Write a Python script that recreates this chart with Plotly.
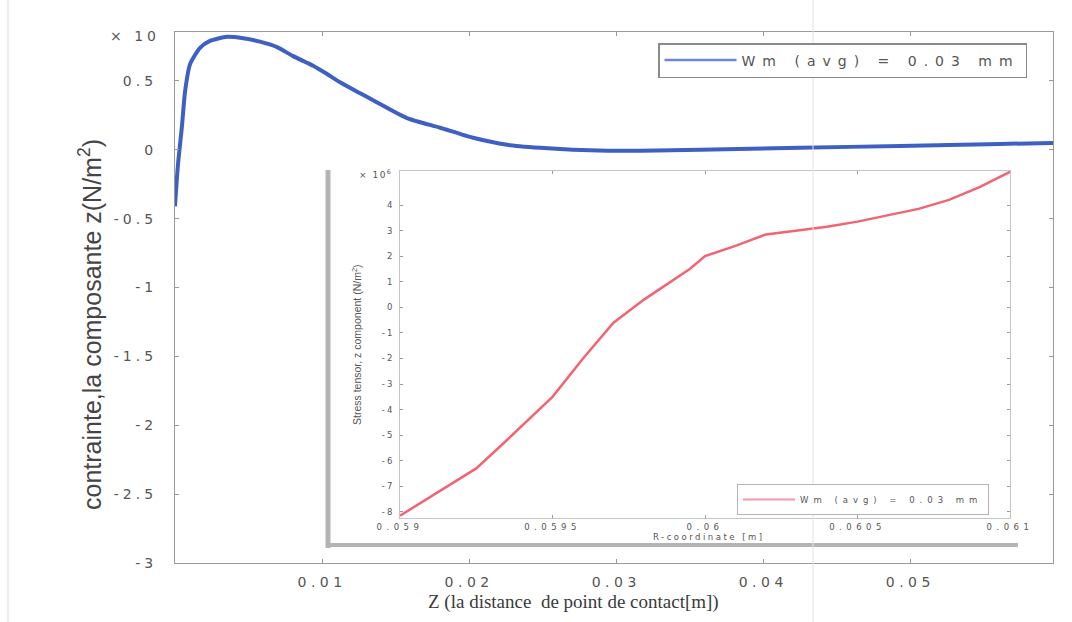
import plotly.graph_objects as go

# Main curve: z-component of stress along the distance from the contact point
z_dist = [0, 0.0002, 0.00048, 0.00068, 0.00102, 0.0017, 0.00238, 0.00354, 0.00463,
          0.00578, 0.00694, 0.00803, 0.00939, 0.01034, 0.01122, 0.01259, 0.01347,
          0.01578, 0.01803, 0.02027, 0.02259, 0.02483, 0.02707, 0.02939, 0.03163,
          0.0357, 0.0425, 0.0493, 0.0561, 0.0597]
stress_z = [-0.41, -0.11, 0.18, 0.42, 0.62, 0.74, 0.79, 0.82, 0.81, 0.785, 0.745,
            0.68, 0.61, 0.55, 0.49, 0.41, 0.36, 0.23, 0.16, 0.087, 0.036, 0.014,
            0.0, -0.007, -0.007, 0.0, 0.014, 0.028, 0.042, 0.05]

# Inset curve: stress tensor z component vs R-coordinate
r_coord = [0.05900, 0.05925, 0.05935, 0.05950, 0.05960, 0.05970, 0.05980, 0.05990,
           0.05995, 0.06000, 0.06010, 0.06020, 0.06030, 0.06040, 0.06050, 0.06060,
           0.06070, 0.06080, 0.06090, 0.06100]
stress_r = [-8.15, -6.3, -5.2, -3.5, -2.0, -0.6, 0.3, 1.1, 1.5, 2.0, 2.4, 2.85,
            3.0, 3.15, 3.35, 3.6, 3.85, 4.2, 4.7, 5.3]

series_name = "Wm (avg) = 0.03 mm"

main_xticks = [0.01, 0.02, 0.03, 0.04, 0.05]
main_xtext = ["0.01", "0.02", "0.03", "0.04", "0.05"]
main_yticks = [-3, -2.5, -2, -1.5, -1, -0.5, 0, 0.5]
main_ytext = ["-3", "-2.5", "-2", "-1.5", "-1", "-0.5", "0", "0.5"]
inset_xticks = [0.059, 0.0595, 0.06, 0.0605, 0.061]
inset_xtext = ["0.059", "0.0595", "0.06", "0.0605", "0.061"]
inset_yticks = [-8, -7, -6, -5, -4, -3, -2, -1, 0, 1, 2, 3, 4]
inset_ytext = [str(v) for v in inset_yticks]

GREY = "#555555"
AXIS = "#9a9a9a"


def spaced(text, px):
    return f'<span style="letter-spacing:{px}px">{text}</span>'


fig = go.Figure()

fig.add_trace(go.Scatter(
    x=z_dist, y=stress_z, mode="lines", name=series_name, showlegend=False,
    line=dict(color="#3d60c2", width=4, shape="spline", smoothing=0.6),
    xaxis="x", yaxis="y",
))
# legend key for the main curve (thinner sample line)
fig.add_trace(go.Scatter(
    x=[None], y=[None], mode="lines", name=spaced(series_name, 7),
    line=dict(color="#6f87d4", width=2.5), legend="legend",
    xaxis="x", yaxis="y",
))
fig.add_trace(go.Scatter(
    x=r_coord, y=stress_r, mode="lines", name=series_name, showlegend=False,
    line=dict(color="#f26472", width=2.5), xaxis="x2", yaxis="y2",
))
fig.add_trace(go.Scatter(
    x=[None], y=[None], mode="lines", name=spaced(series_name, 5),
    line=dict(color="#f49aa6", width=2), legend="legend2",
    xaxis="x2", yaxis="y2",
))

L, R, T, B = 175, 19, 32, 59
W, H = 1072, 622
PW, PH = W - L - R, H - T - B


def px(xp):
    return (xp - L) / PW


def py(yp):
    return (H - B - yp) / PH


common_axis = dict(showgrid=False, zeroline=False, automargin=False,
                   ticks="inside", tickcolor=AXIS, showline=True, mirror="ticks")

fig.update_layout(
    width=W, height=H, autosize=False,
    margin=dict(l=L, r=R, t=T, b=B, autoexpand=False),
    paper_bgcolor="white", plot_bgcolor="white",
    font=dict(family="DejaVu Sans", color=GREY),
    xaxis=dict(
        domain=[0, 1], range=[0, 0.0597], tickvals=main_xticks,
        ticktext=[spaced(t, 4.5) for t in main_xtext],
        tickfont=dict(size=14, color=GREY), ticklen=4,
        linecolor=AXIS, linewidth=1.2, ticklabelstandoff=6, **common_axis,
    ),
    yaxis=dict(
        domain=[0, 1], range=[-3, 0.855], tickvals=main_yticks,
        ticktext=[spaced(t, 4) for t in main_ytext],
        tickfont=dict(size=14, color=GREY), ticklen=4,
        linecolor=AXIS, linewidth=1.2, ticklabelstandoff=14, **common_axis,
    ),
    xaxis2=dict(
        domain=[px(400), px(1010)], range=[0.059, 0.061], anchor="y2",
        tickvals=inset_xticks, ticktext=[spaced(t, 4.5) for t in inset_xtext],
        tickfont=dict(size=8.5, color=GREY), ticklen=3,
        linecolor="#c4c4c4", linewidth=1, ticklabelstandoff=1, **common_axis,
    ),
    yaxis2=dict(
        domain=[py(518), py(171)], range=[-8.24, 5.33], anchor="x2",
        tickvals=inset_yticks, ticktext=[spaced(t, 2) for t in inset_ytext],
        tickfont=dict(size=8.5, color=GREY), ticklen=3,
        linecolor="#c4c4c4", linewidth=1, ticklabelstandoff=3, **common_axis,
    ),
    legend=dict(
        x=px(658), y=py(43), xanchor="left", yanchor="top",
        bgcolor="white", bordercolor="#8a8a8a", borderwidth=1.5,
        font=dict(size=14, color=GREY), itemwidth=72,
    ),
    legend2=dict(
        x=px(737), y=py(484), xanchor="left", yanchor="top",
        bgcolor="white", bordercolor="#b5b5b5", borderwidth=1,
        font=dict(size=8.5, color=GREY), itemwidth=52,
    ),
    showlegend=True,
)

# Grey frame strips around the inset
fig.add_shape(type="line", xref="paper", yref="paper",
              x0=px(328), x1=px(328), y0=py(170), y1=py(548),
              line=dict(color="#b4b4b4", width=5))
fig.add_shape(type="line", xref="paper", yref="paper",
              x0=px(328), x1=px(1018), y0=py(545), y1=py(545),
              line=dict(color="#b4b4b4", width=4))
# Faint vertical fold lines across the page
fig.add_shape(type="line", xref="paper", yref="paper",
              x0=px(813), x1=px(813), y0=py(622), y1=py(0),
              line=dict(color="#e2e2e2", width=1))
fig.add_shape(type="line", xref="paper", yref="paper",
              x0=px(8), x1=px(8), y0=py(622), y1=py(0),
              line=dict(color="#ececec", width=2))


def label(x, y, text, **kw):
    fig.add_annotation(xref="paper", yref="paper", x=px(x), y=py(y), text=text,
                       showarrow=False, xanchor=kw.pop("xanchor", "center"),
                       yanchor="middle", **kw)


# Axis titles and exponent markers
label(90, 325, "contrainte,la composante z(N/m<sup>2</sup>)", textangle=-90,
      font=dict(family="Liberation Sans", size=25, color="#454545"))
label(573, 602, "Z (la distance  de point de contact[m])",
      font=dict(family="Liberation Serif", size=19, color="#3a3a3a"))
label(162, 36, spaced("× 10", 4), xanchor="right",
      font=dict(size=14, color=GREY))
label(709, 537, spaced("R-coordinate [m]", 2.5),
      font=dict(size=8.5, color=GREY))
label(357, 345, "Stress tensor, z component (N/m<sup>2</sup>)", textangle=-90,
      font=dict(family="Liberation Sans", size=10.5, color=GREY))
label(394, 174, spaced("× 10<sup>6</sup>", 1.5), xanchor="right",
      font=dict(size=9, color=GREY))

fig.write_html("out.html")
